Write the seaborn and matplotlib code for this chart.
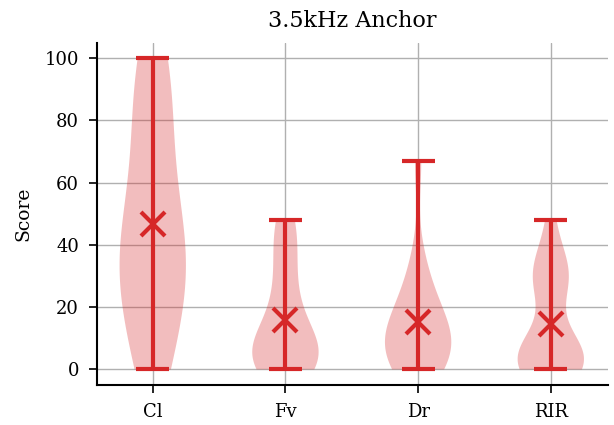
import numpy as np
import pandas as pd
import matplotlib
matplotlib.use("Agg")
import matplotlib.pyplot as plt
import seaborn as sns

categories = ["Cl", "Fv", "Dr", "RIR"]
scores_cl = [0, 5, 15, 25, 30, 33, 38, 42, 50, 62, 72, 85, 95, 100]
scores_fv = [0, 0, 0, 2, 3, 3, 5, 5, 6, 8, 10, 12, 15, 20, 25, 30, 36, 42, 46, 48]
scores_dr = [0, 0, 2, 3, 5, 6, 8, 10, 12, 14, 16, 18, 22, 28, 35, 67]
scores_rir = [0, 0, 0, 0, 0, 2, 3, 4, 5, 5, 6, 8, 10, 26, 27, 28, 30, 32, 33, 38, 48]
title = "3.5kHz Anchor"
ylabel = "Score"

series = [scores_cl, scores_fv, scores_dr, scores_rir]
df = pd.DataFrame({
    "cond": np.repeat(categories, [len(s) for s in series]),
    "score": np.concatenate(series),
})

sns.set_style("whitegrid")
plt.rcParams["font.family"] = ["DejaVu Serif"]
plt.rcParams["text.color"] = "black"
plt.rcParams["axes.labelcolor"] = "black"
plt.rcParams["xtick.color"] = "black"
plt.rcParams["ytick.color"] = "black"
red = "#d62728"

fig, ax = plt.subplots(figsize=(6.14, 4.25), dpi=100)
fig.subplots_adjust(left=0.158, right=0.99, top=0.9, bottom=0.094)

sns.violinplot(data=df, x="cond", y="score", order=categories, cut=0, inner=None,
               density_norm="width", width=0.5, color=red, saturation=1,
               linewidth=0, ax=ax)
for coll in ax.collections:
    coll.set_alpha(0.3)
    coll.set_edgecolor("none")

stats = df.groupby("cond")["score"].agg(["min", "max", "mean"]).reindex(categories)
pos = np.arange(len(categories))
ax.vlines(pos, stats["min"], stats["max"], color=red, lw=3, zorder=3)
ax.hlines(stats["min"], pos - 0.125, pos + 0.125, color=red, lw=3, zorder=3)
ax.hlines(stats["max"], pos - 0.125, pos + 0.125, color=red, lw=3, zorder=3)
ax.plot(pos, stats["mean"], linestyle="none", marker="x", markersize=17,
        markeredgewidth=3, color=red, zorder=4)

ax.set_xlim(-0.42, 3.43)
ax.set_ylim(-5, 105)
ax.set_yticks([0, 20, 40, 60, 80, 100])
ax.grid(True, color="#b0b0b0", lw=1)
ax.set_axisbelow(True)
for s in ["top", "right"]:
    ax.spines[s].set_visible(False)
for s in ["left", "bottom"]:
    ax.spines[s].set_color("black")
    ax.spines[s].set_linewidth(1.5)
ax.tick_params(axis="both", which="both", length=6, width=1.2, color="black",
               labelsize=13, pad=7, bottom=True, left=True)
ax.set_xlabel("")
ax.set_ylabel(ylabel, fontsize=13.5, labelpad=9)
ax.set_title(title, fontsize=16, pad=11)

fig.savefig("out.png", dpi=100)
